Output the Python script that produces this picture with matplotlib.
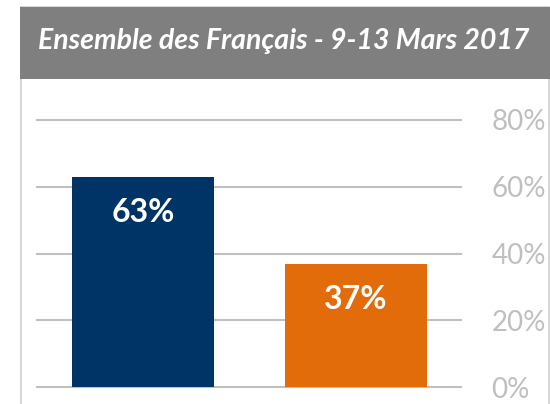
import matplotlib.pyplot as plt
from matplotlib.patches import Rectangle

# data
categories = ["A", "B"]
values = [63, 37]
bar_labels = ["63%", "37%"]
colors = ["#003366", "#E36C0A"]
yticks = [0, 20, 40, 60, 80]
ytick_labels = ["0%", "20%", "40%", "60%", "80%"]
title = "Ensemble des Français - 9-13 Mars 2017"

W, H = 550, 404
plt.rcParams['font.family'] = ['Lato', 'DejaVu Sans']
fig = plt.figure(figsize=(W / 100, H / 100), dpi=100)


def fx(px):
    return px / W


def fy(py):
    return 1 - py / H


# outer frame and gray title banner
fig.add_artist(Rectangle((fx(20.5), -0.1), fx(548.5) - fx(20.5), fy(7) + 0.1,
                         transform=fig.transFigure, facecolor="white",
                         edgecolor="#d0d0d0", lw=1.2, zorder=-2))
fig.add_artist(Rectangle((fx(20), fy(79)), 1, fy(7) - fy(79), transform=fig.transFigure,
                         facecolor="#7f7f7f", edgecolor="none", zorder=-1))
fig.text(fx(284), fy(41), title, color="white", fontsize=20.5, fontweight="bold",
         fontstyle="italic", ha="center", va="center")

# axes: 0% at y=387, 80% at y=120, x from 37 to 461
ax = fig.add_axes([fx(37), fy(387), fx(461) - fx(37), fy(120) - fy(387)])
ax.set_zorder(2)
ax.set_facecolor("none")
ax.set_ylim(0, 80)
ax.set_xlim(-0.498, 1.493)

x = list(range(len(values)))
ax.bar(x, values, width=0.667, color=colors, zorder=3)
for xi, v, lab in zip(x, values, bar_labels):
    ax.text(xi, v - 10.8, lab, color="white", fontsize=23, fontweight="bold",
            ha="center", va="center", zorder=4)

ax.set_yticks(yticks)
ax.set_yticklabels(ytick_labels)
ax.yaxis.tick_right()
ax.tick_params(axis="y", length=0, pad=22, labelsize=20, labelcolor="#bfbfbf")
for lab in ax.get_yticklabels():
    lab.set_horizontalalignment("left")
ax.set_xticks([])
ax.yaxis.grid(True, color="#c0c0c0", lw=1.5, zorder=1)
ax.set_axisbelow(True)
for s in ax.spines.values():
    s.set_visible(False)
for gl in ax.get_ygridlines():
    gl.set_clip_on(False)

fig.savefig("out.png", dpi=100)
